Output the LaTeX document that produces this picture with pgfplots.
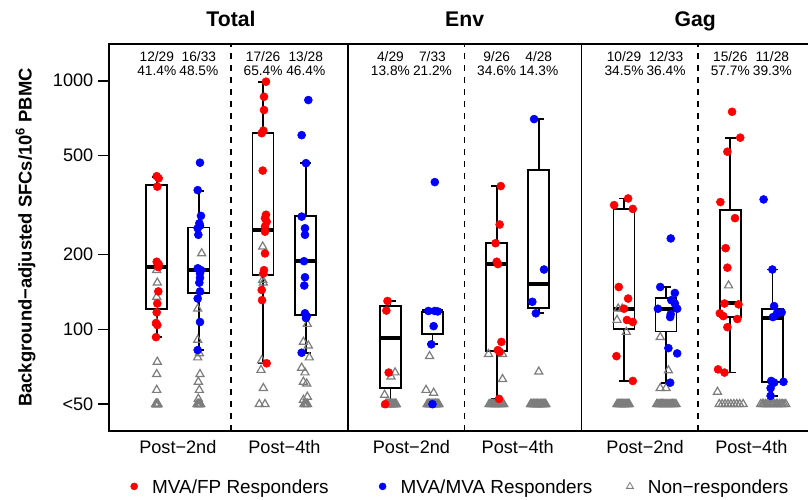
\documentclass[border=0pt]{standalone}
\usepackage{fontspec}
\setmainfont{Liberation Sans}
\usepackage{pgfplots}
\usepackage{pgfplotstable}
\pgfplotsset{compat=1.18}

\definecolor{fpred}{RGB}{255,0,0}
\definecolor{mvablue}{RGB}{0,0,255}
\definecolor{nongray}{RGB}{125,125,125}

\newcommand{\tickfont}{\fontsize{13.6}{16}\selectfont}
\newcommand{\titlefont}{\fontsize{15.9}{19}\selectfont\bfseries}
\newcommand{\pctfont}{\fontsize{10.3}{12}\selectfont}
\newcommand{\ylabfont}{\fontsize{13.8}{16}\selectfont\bfseries}
\newcommand{\legfont}{\fontsize{14.2}{17}\selectfont}

% MVA/FP responders (x = jittered position, y = SFCs)
\pgfplotstableread{
x y
0.728 413
0.762 405
0.738 375
0.728 187
0.762 183
0.755 178
0.755 142
0.738 127
0.728 117
0.716 106
0.738 104
0.716 93
2.599 991
2.565 862
2.565 762
2.554 630
2.526 615
2.543 435
2.599 289
2.582 280
2.611 271
2.582 259
2.582 247
2.582 202
2.565 173
2.554 168
2.526 144
2.532 131
2.611 73
4.68 130
4.66 119
4.70 67
4.64 50
6.62 377
6.60 264
6.53 222
6.55 187
6.57 183
6.63 89
6.57 82.5
6.60 81
6.59 52.5
8.80 336
8.56 316
8.88 305
8.64 148
8.80 133
8.73 121
8.78 109
8.88 107
8.60 78
8.88 62
10.58 750
10.72 590
10.50 518
10.38 325
10.63 280
10.47 212
10.50 177
10.45 127
10.69 126
10.37 116
10.43 113
10.67 110
10.50 102
10.34 69
10.45 67
}\fppts

% MVA/MVA responders
\pgfplotstableread{
x y
1.469 468
1.430 363
1.486 286
1.458 267
1.469 261
1.430 255
1.441 240
1.430 176
1.486 173
1.469 168
1.469 161
1.458 154
1.469 142
1.430 133
1.469 107
1.430 82.5
3.324 836
3.21 604
3.284 466
3.21 284
3.267 255
3.267 240
3.25 188
3.267 162
3.255 150
3.267 116
3.296 113
3.284 111
3.21 80.5
5.49 391
5.38 118.5
5.49 118.5
5.54 118
5.47 103
5.43 87
5.45 50
7.19 701
7.36 174
7.16 129
7.22 116
9.53 232
9.35 148
9.60 140
9.54 131
9.60 127
9.31 121
9.64 121
9.53 115
9.52 112
9.49 84
9.64 80
9.52 61
11.12 333
11.27 174
11.30 124
11.43 117
11.35 116
11.28 112
11.25 62
11.46 61.5
11.30 61
11.24 58
11.24 54
}\mvapts

% non-responders
\pgfplotstableread{
x y
0.728 173
0.738 154
0.728 135
0.728 106
0.738 74
0.728 66
0.728 57
0.71 50
0.72 50
0.73 50
0.74 50
0.75 50
0.72 50
0.73 50
0.74 50
0.73 50
0.735 50
1.498 202
1.430 121
1.430 90.6
1.458 80
1.430 77
1.469 66
1.441 61.5
1.458 57
1.441 52.5
1.42 50
1.43 50
1.44 50
1.45 50
1.46 50
1.47 50
1.48 50
1.45 50
2.543 215
2.554 168
2.543 158
2.554 154
2.526 75
2.514 68.6
2.554 58
2.485 50
2.582 50
3.307 105
3.24 89
3.324 86
3.341 77
3.21 70
3.267 67
3.24 61.5
3.296 60.5
3.307 53.5
3.24 52
3.25 50
3.27 50
3.29 50
3.31 50
3.28 50
4.81 67
4.74 64.5
4.63 54.5
4.65 50
4.66 50
4.67 50
4.68 50
4.69 50
4.70 50
4.71 50
4.72 50
4.73 50
4.74 50
4.75 50
4.76 50
4.77 50
4.78 50
4.79 50
4.80 50
4.81 50
4.82 50
4.83 50
4.66 50
4.74 50
4.82 50
5.40 78
5.34 57
5.47 55.5
5.36 50
5.37 50
5.38 50
5.39 50
5.40 50
5.41 50
5.42 50
5.43 50
5.44 50
5.45 50
5.46 50
5.47 50
5.48 50
5.49 50
5.50 50
5.51 50
5.52 50
5.53 50
5.54 50
5.55 50
5.56 50
5.40 50
5.50 50
6.41 79.5
6.65 79.5
6.65 63
6.42 50
6.44 50
6.46 50
6.48 50
6.50 50
6.52 50
6.54 50
6.56 50
6.58 50
6.60 50
6.62 50
6.64 50
6.66 50
6.67 50
7.27 67.5
7.13 50
7.14 50
7.15 50
7.17 50
7.18 50
7.19 50
7.20 50
7.21 50
7.23 50
7.24 50
7.25 50
7.26 50
7.27 50
7.29 50
7.30 50
7.31 50
7.32 50
7.33 50
7.35 50
7.36 50
7.37 50
7.38 50
7.39 50
8.63 121
8.70 121
8.61 109
8.77 97.5
8.61 50
8.625 50
8.64 50
8.655 50
8.67 50
8.685 50
8.70 50
8.715 50
8.73 50
8.745 50
8.76 50
8.775 50
8.79 50
8.805 50
8.82 50
9.35 93
9.49 68.3
9.35 58
9.45 58
9.29 50
9.31 50
9.33 50
9.35 50
9.37 50
9.39 50
9.41 50
9.43 50
9.45 50
9.47 50
9.50 50
9.52 50
9.54 50
9.56 50
9.58 50
9.60 50
9.62 50
10.52 150
10.33 56
10.36 50
10.41 50
10.46 50
10.51 50
10.56 50
10.61 50
10.66 50
10.71 50
10.77 50
11.07 50
11.10 50
11.12 50
11.15 50
11.18 50
11.20 50
11.23 50
11.26 50
11.28 50
11.31 50
11.34 50
11.36 50
11.39 50
11.42 50
11.44 50
11.47 50
11.50 50
}\nonpts

% box: position, lower whisker, lower quartile, median, upper quartile, upper whisker
\newcommand{\sfcbox}[6]{%
  \pgfmathsetmacro\bxl{#1-0.18}\pgfmathsetmacro\bxr{#1+0.18}%
  \pgfmathsetmacro\cpl{#1-0.09}\pgfmathsetmacro\cpr{#1+0.09}%
  \addplot[black, line width=1.3pt, forget plot] coordinates {(#1,#5) (#1,#6)};
  \addplot[black, line width=1.3pt, forget plot] coordinates {(#1,#2) (#1,#3)};
  \addplot[black, line width=1.3pt, forget plot] coordinates {(\cpl,#6) (\cpr,#6)};
  \addplot[black, line width=1.3pt, forget plot] coordinates {(\cpl,#2) (\cpr,#2)};
  \addplot[black, fill=white, line width=1.3pt, forget plot]
    coordinates {(\bxl,#3) (\bxr,#3) (\bxr,#5) (\bxl,#5)} -- cycle;
  \addplot[black, line width=3pt, forget plot] coordinates {(\bxl,#4) (\bxr,#4)};
}
\newcommand{\pct}[3]{%
  \node[anchor=base, yshift=-13.5pt, font=\pctfont] at (axis cs:#1,1405) {#2};
  \node[anchor=base, yshift=-24pt, font=\pctfont] at (axis cs:#1,1405) {#3};}

\begin{document}
\begin{tikzpicture}
\begin{axis}[
  name=ax,
  width=529.5pt, height=290.25pt, scale only axis,
  xmin=-0.089, xmax=12,
  ymode=log, ymin=39, ymax=1405,
  ytick={50,100,200,500,1000},
  yticklabels={<50,100,200,500,1000},
  yminorticks=false,
  ytick pos=left,
  tick align=outside,
  major tick length=8.25pt,
  xtick={1.09,2.915,5.09,6.91,9.09,10.91},
  xticklabels={Post−2nd,Post−4th,Post−2nd,Post−4th,Post−2nd,Post−4th},
  xtick style={draw=none},
  xticklabel style={yshift=4.5pt},
  ytick style={black, line width=1.2pt},
  tick label style={font=\tickfont},
  axis line style={line width=1.3pt},
  ylabel={Background−adjusted SFCs/10\textsuperscript{6} PBMC},
  ylabel style={font=\ylabfont, at={(axis description cs:-0.1183,0.5)}, anchor=center},
  clip mode=individual,
  legend columns=3,
  legend cell align=left,
  legend style={at={(axis description cs:0.0304,-0.1473)}, anchor=west,
    draw=none, fill=none, inner sep=0pt, font=\legfont,
    nodes={inner sep=0pt},
    /tikz/column sep=0pt,
    /tikz/column 2/.style={column sep=37.9pt},
    /tikz/column 4/.style={column sep=25.5pt}},
  legend image code/.code={%
    \draw[#1] plot coordinates {(0pt,1.2pt)};
    \path[draw=none, fill=none] (-2.6pt,-2pt) rectangle (13.5pt,4pt);},
]
% boxes
\sfcbox{0.73}{93}{121}{178}{381}{411}
\sfcbox{1.45}{82.5}{140}{173}{257}{360}
\sfcbox{2.55}{73}{165}{252}{615}{991}
\sfcbox{3.28}{80.5}{114}{188}{286}{466}
\sfcbox{4.73}{50}{58}{92}{124}{130}
\sfcbox{5.45}{87}{96}{118}{118}{118}
\sfcbox{6.55}{52.5}{82}{183}{222}{377}
\sfcbox{7.27}{116}{122}{152}{437}{701}
\sfcbox{8.73}{62}{100}{121}{305}{336}
\sfcbox{9.45}{61}{98}{121}{134}{148}
\sfcbox{10.55}{67}{112}{128}{302}{587}
\sfcbox{11.27}{54}{61.5}{111}{121}{174}

% points
\addplot[only marks, mark=triangle, mark size=3.5pt, color=nongray,
  mark options={line width=0.9pt}, forget plot] table[x=x, y=y] {\nonpts};
\addplot[only marks, mark=*, mark size=3pt, color=fpred, forget plot]
  table[x=x, y=y] {\fppts};
\addplot[only marks, mark=*, mark size=3pt, color=mvablue, forget plot]
  table[x=x, y=y] {\mvapts};

% legend
\addlegendimage{mark=*, mark size=2.6pt, color=fpred}
\addlegendentry{MVA/FP Responders}
\addlegendimage{mark=*, mark size=2.6pt, color=mvablue}
\addlegendentry{MVA/MVA Responders}
\addlegendimage{mark=triangle, mark size=3pt, color=nongray, mark options={line width=0.6pt}}
\addlegendentry{Non−responders}

% panel separators
\draw[line width=1.3pt] (axis cs:4,39) -- (axis cs:4,1405);
\draw[line width=1.3pt] (axis cs:8,39) -- (axis cs:8,1405);
\draw[line width=1.2pt, dash pattern=on 4.5pt off 4.5pt] (axis cs:2,39) -- (axis cs:2,1405);
\draw[line width=1.2pt, dash pattern=on 4.5pt off 4.5pt] (axis cs:6,39) -- (axis cs:6,1405);
\draw[line width=1.2pt, dash pattern=on 4.5pt off 4.5pt] (axis cs:10,39) -- (axis cs:10,1405);

% panel titles
\node[anchor=base, yshift=13.2pt, font=\titlefont] at (axis cs:2,1405) {Total};
\node[anchor=base, yshift=13.2pt, font=\titlefont] at (axis cs:6,1405) {Env};
\node[anchor=base, yshift=13.2pt, font=\titlefont] at (axis cs:9.95,1405) {Gag};

% responder counts
\pct{0.73}{12/29}{41.4\%}
\pct{1.45}{16/33}{48.5\%}
\pct{2.55}{17/26}{65.4\%}
\pct{3.28}{13/28}{46.4\%}
\pct{4.73}{4/29}{13.8\%}
\pct{5.45}{7/33}{21.2\%}
\pct{6.55}{9/26}{34.6\%}
\pct{7.27}{4/28}{14.3\%}
\pct{8.73}{10/29}{34.5\%}
\pct{9.45}{12/33}{36.4\%}
\pct{10.55}{15/26}{57.7\%}
\pct{11.27}{11/28}{39.3\%}
\end{axis}
\pgfresetboundingbox
\path[use as bounding box] (ax.south west) ++(-81.75pt,-51.75pt)
  rectangle ([shift={(524.25pt,323.25pt)}]ax.south west);
\end{tikzpicture}
\end{document}
